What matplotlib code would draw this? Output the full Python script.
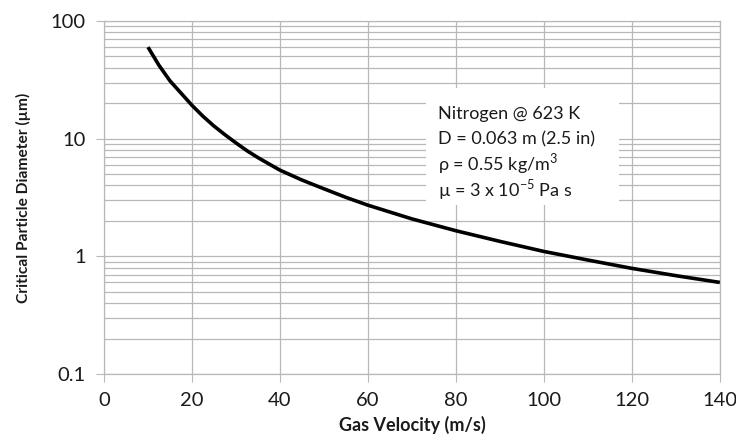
import numpy as np
import matplotlib.pyplot as plt
from matplotlib.patches import Rectangle

plt.rcParams['font.family'] = ['Lato', 'DejaVu Sans']
plt.rcParams['mathtext.fontset'] = 'custom'
plt.rcParams['mathtext.rm'] = 'Lato'

# values
velocity = [10, 12.5, 15, 17.5, 20, 22.5, 25, 27.5, 30, 32.5, 35, 37.5, 40,
            45, 50, 55, 60, 70, 80, 90, 100, 110, 120, 130, 140]
diameter = [60, 42, 31, 24.4, 19.2, 15.5, 12.8, 10.8, 9.2, 7.9, 6.9, 6.1, 5.4,
            4.45, 3.75, 3.17, 2.72, 2.08, 1.65, 1.34, 1.1, 0.93, 0.79, 0.685, 0.60]

x_ticks = [0, 20, 40, 60, 80, 100, 120, 140]
y_ticks = [0.1, 1, 10, 100]
y_ticklabels = ['0.1', '1', '10', '100']

note_lines = ['Nitrogen @ 623 K',
              'D = 0.063 m (2.5 in)',
              '\u03c1 = 0.55 kg/m$^{3}$',
              '\u00b5 = 3 x 10$^{-5}$ Pa s']

grid_col = '#b8b8b8'
txt_col = '#1a1a1a'

fig = plt.figure(figsize=(7.36, 4.45), dpi=100)
ax = fig.add_axes([0.1413, 0.1596, 0.8367, 0.7932])

ax.plot(velocity, diameter, color='black', lw=2.6, solid_capstyle='butt', zorder=3)

ax.set_yscale('log')
ax.set_xlim(0, 140)
ax.set_ylim(0.1, 100)
ax.set_xticks(x_ticks)
ax.set_yticks(y_ticks)
ax.set_yticklabels(y_ticklabels)
ax.yaxis.set_minor_locator(plt.matplotlib.ticker.LogLocator(base=10, subs=np.arange(2, 10)))
ax.yaxis.set_minor_formatter(plt.NullFormatter())

ax.grid(True, which='major', color=grid_col, lw=0.9)
ax.grid(True, which='minor', axis='y', color=grid_col, lw=0.9)
ax.set_axisbelow(True)

for s in ax.spines.values():
    s.set_color(grid_col)
    s.set_linewidth(0.9)

ax.tick_params(which='major', length=6, color=grid_col, labelsize=14.5, pad=7, labelcolor=txt_col)
ax.tick_params(which='minor', length=0)

ax.set_xlabel('Gas Velocity (m/s)', fontsize=13, fontweight='bold', labelpad=5, color=txt_col)
ax.set_ylabel('Critical Particle Diameter (\u00b5m)', fontsize=11.2, fontweight='bold', labelpad=14, color=txt_col)

# white note box over the grid
ax.add_patch(Rectangle((0.523, 0.478), 0.313, 0.332, transform=ax.transAxes,
                       facecolor='white', edgecolor='none', zorder=2))
for i, line in enumerate(note_lines):
    ax.text(0.543, 0.722 - i * 0.0725, line, transform=ax.transAxes, fontsize=13,
            va='baseline', ha='left', color=txt_col, zorder=4)

fig.savefig('out.png', dpi=100)
